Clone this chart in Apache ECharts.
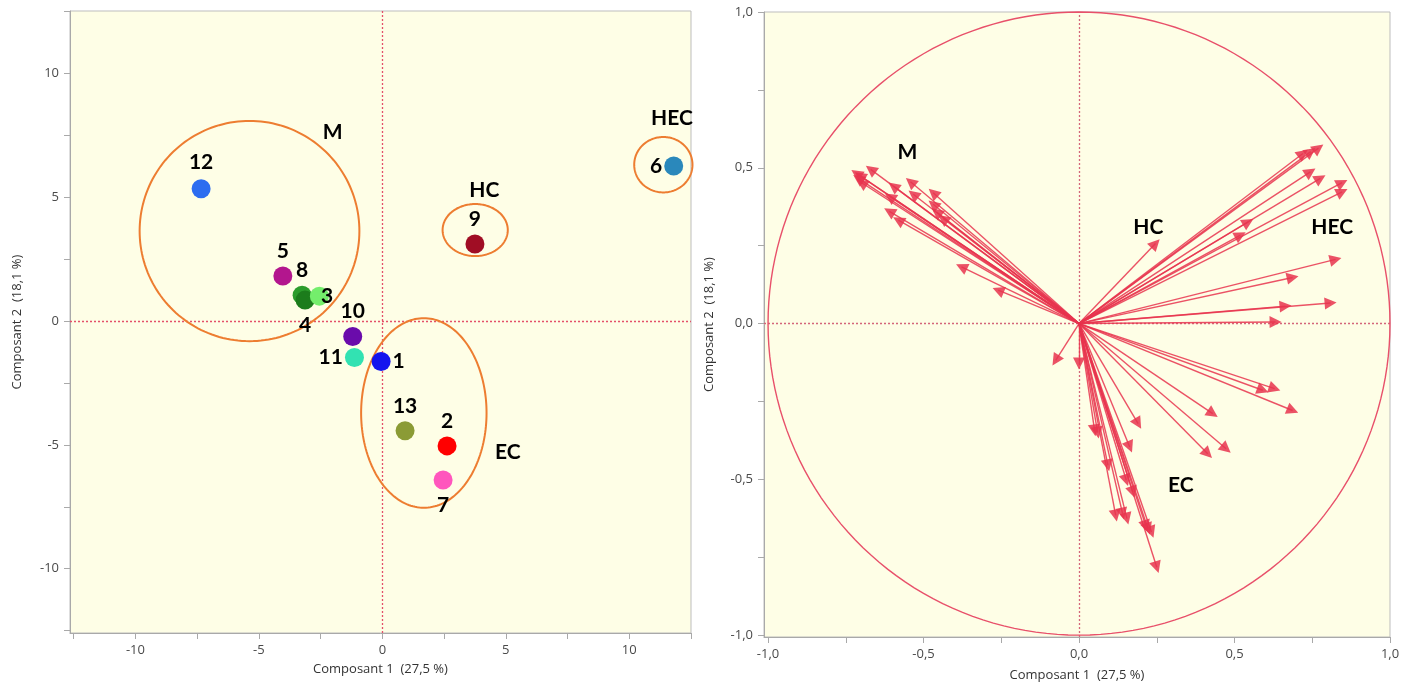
<!DOCTYPE html>
<html><head><meta charset="utf-8">
<script src="https://cdn.jsdelivr.net/npm/echarts@6/dist/echarts.min.js"></script>
<style>html,body{margin:0;padding:0;background:#fff}#c{width:1416px;height:689px}</style>
</head><body><div id="c"></div>
<script>
// ---------- Score plot (left) ----------
const sampleIds = ['1','2','3','4','5','6','7','8','9','10','11','12','13'];
const scoreX = [-0.05, 2.62, -2.55, -3.13, -4.03, 11.8, 2.46, -3.25, 3.75, -1.2, -1.13, -7.34, 0.92];
const scoreY = [-1.63, -5.04, 1.01, 0.85, 1.82, 6.27, -6.42, 1.05, 3.12, -0.62, -1.47, 5.35, -4.43];

const groupNames = ['M', 'HC', 'HEC', 'EC'];
const groupCx = [-5.38, 3.76, 11.38, 1.68];
const groupCy = [3.64, 3.68, 6.32, -3.71];
const groupRx = [4.45, 1.32, 1.18, 2.54];
const groupRy = [4.45, 1.05, 1.12, 3.83];
const groupLabelX = [-2.01, 4.13, 11.73, 5.08];
const groupLabelY = [7.65, 5.29, 8.19, -5.28];

const scoreTicks = [-12.5, -10, -7.5, -5, -2.5, 0, 2.5, 5, 7.5, 10, 12.5];
const scoreTickLabels = [-10, -5, 0, 5, 10];

// ---------- Loading plot (right) ----------
const loadX = [
  -0.716, -0.71, -0.699, -0.705, -0.67, -0.597, -0.542, -0.608, -0.533, -0.469, -0.469, -0.458, -0.437, -0.61, -0.581, -0.378, -0.26,
  0.246,
  0.72, 0.745, 0.77, 0.744, 0.776, 0.846, 0.846, 0.544, 0.519, 0.825, 0.687, 0.809, 0.664, 0.632,
  -0.075, 0.0, 0.629, 0.591, 0.687, 0.43, 0.473, 0.414, 0.19, 0.163, 0.05, 0.06, 0.093, 0.152, 0.173, 0.118, 0.14, 0.154, 0.215, 0.222, 0.233, 0.25
];
const loadY = [
  0.482, 0.466, 0.452, 0.475, 0.495, 0.441, 0.455, 0.407, 0.415, 0.42, 0.383, 0.358, 0.337, 0.36, 0.332, 0.182, 0.107,
  0.257,
  0.546, 0.552, 0.563, 0.487, 0.466, 0.452, 0.423, 0.326, 0.284, 0.206, 0.148, 0.066, 0.056, 0.005,
  -0.118, -0.128, -0.209, -0.214, -0.279, -0.289, -0.402, -0.418, -0.321, -0.396, -0.343, -0.35, -0.455, -0.503, -0.541, -0.616, -0.61, -0.626, -0.65, -0.659, -0.669, -0.782
];
const loadGroupNames = ['M', 'HC', 'HEC', 'EC'];
const loadGroupX = [-0.552, 0.223, 0.814, 0.327];
const loadGroupY = [0.551, 0.31, 0.31, -0.519];

const loadTicks = [-1, -0.75, -0.5, -0.25, 0, 0.25, 0.5, 0.75, 1];
const loadTickLabels = [-1, -0.5, 0, 0.5, 1];

// ---------- styles (kept apart from data) ----------
const sampleColors = {
  '1': '#1414ee', '2': '#ff0000', '3': '#74ee6c', '4': '#1c7c1c', '5': '#b3168e',
  '6': '#2a88bb', '7': '#ff56bd', '8': '#2c9c2c', '9': '#a00d24', '10': '#6a0bab',
  '11': '#32e2b2', '12': '#2d6df0', '13': '#8b9b35'
};
const labelPlace = {
  '1': {position: 'right', distance: 2, offset: [0, 0]},
  '2': {position: 'top', distance: 5, offset: [-2, 2]},
  '3': {position: 'right', distance: -8, offset: [0, -1]},
  '4': {position: 'bottom', distance: 5, offset: [-7, -7]},
  '5': {position: 'top', distance: 5, offset: [-5, 0]},
  '6': {position: 'left', distance: 2, offset: [0, 0]},
  '7': {position: 'bottom', distance: 5, offset: [0, -4]},
  '8': {position: 'top', distance: 5, offset: [0, 4]},
  '9': {position: 'top', distance: 5, offset: [-1, 0]},
  '10': {position: 'top', distance: 5, offset: [16, 6]},
  '11': {position: 'left', distance: 2, offset: [0, 2]},
  '12': {position: 'top', distance: 6, offset: [1, 0]},
  '13': {position: 'top', distance: 5, offset: [4, 0]}
};
const drawOrder = ['1','2','5','6','7','8','9','10','11','12','13','4','3'];

const BOLD_FONT = 'Lato, "Open Sans", sans-serif';
const AX_FONT = '"Open Sans", "Noto Sans", sans-serif';

function commaFmt(dec) {
  return v => (dec ? Number(v).toFixed(dec) : String(Math.round(v))).replace('.', ',');
}
function makeAxis(min, max, ticks, labels, fmt, name, gap, gridIndex) {
  return {
    type: 'value', gridIndex, min, max, name, nameLocation: 'middle', nameGap: gap,
    nameTextStyle: {color: '#333', fontSize: 13, fontFamily: AX_FONT},
    axisLine: {show: true, onZero: false, lineStyle: {color: '#a9a9a9', width: 1}},
    axisTick: {show: true, inside: false, length: 6, customValues: ticks, lineStyle: {color: '#a9a9a9'}},
    axisLabel: {customValues: labels, formatter: fmt, color: '#4a4a4a', fontSize: 13, fontFamily: AX_FONT, margin: 11},
    splitLine: {show: false}
  };
}
function ellipseRender(color, width) {
  return function (params, api) {
    const cx = api.value(0), cy = api.value(1), rx = api.value(2), ry = api.value(3);
    const pts = [];
    const n = 180;
    for (let i = 0; i <= n; i++) {
      const t = i / n * 2 * Math.PI;
      pts.push(api.coord([cx + rx * Math.cos(t), cy + ry * Math.sin(t)]));
    }
    return {type: 'polyline', shape: {points: pts}, style: {stroke: color, fill: 'none', lineWidth: width}};
  };
}

const sampleData = drawOrder.map(id => {
  const i = sampleIds.indexOf(id);
  const lp = labelPlace[id];
  return {
    name: id, value: [scoreX[i], scoreY[i]],
    itemStyle: {color: sampleColors[id], opacity: 1},
    label: Object.assign({show: true, formatter: id, color: '#000'}, lp)
  };
});

const zeroLine = (color) => ({
  silent: true, symbol: 'none', animation: false, z: 1,
  label: {show: false},
  lineStyle: {type: [2, 2], color, width: 1.3},
  data: [{xAxis: 0}, {yAxis: 0}]
});

const groupLabelStyle = {show: true, position: 'inside', color: '#000', fontSize: 21, fontWeight: 'bold', fontFamily: BOLD_FONT, formatter: p => p.name};

const option = {
  animation: false,
  backgroundColor: '#ffffff',
  grid: [
    {left: 70, top: 11, width: 621, height: 622, show: true, backgroundColor: '#fefee6', borderColor: '#bdbdbd', borderWidth: 1},
    {left: 764, top: 12, width: 626, height: 625, show: true, backgroundColor: '#fefee6', borderColor: '#bdbdbd', borderWidth: 1}
  ],
  xAxis: [
    makeAxis(-12.65, 12.5, scoreTicks, scoreTickLabels, commaFmt(0), 'Composant 1  (27,5 %)', 30, 0),
    makeAxis(-1.013, 1.0, loadTicks, loadTickLabels, commaFmt(1), 'Composant 1  (27,5 %)', 32, 1)
  ],
  yAxis: [
    makeAxis(-12.6, 12.53, scoreTicks, scoreTickLabels, commaFmt(0), 'Composant 2  (18,1 %)', 46, 0),
    makeAxis(-1.006, 1.0, loadTicks, loadTickLabels, commaFmt(1), 'Composant 2  (18,1 %)', 48, 1)
  ],
  series: [
    {
      type: 'custom', xAxisIndex: 0, yAxisIndex: 0, silent: true, z: 2,
      renderItem: ellipseRender('#ed7d31', 2),
      data: groupNames.map((g, i) => [groupCx[i], groupCy[i], groupRx[i], groupRy[i]]),
      markLine: zeroLine('#e4506a')
    },
    {
      type: 'scatter', xAxisIndex: 0, yAxisIndex: 0, z: 3,
      symbol: 'circle', symbolSize: 19,
      itemStyle: {opacity: 1},
      label: {color: '#000', fontSize: 21, fontWeight: 'bold', fontFamily: BOLD_FONT},
      labelLayout: {hideOverlap: false},
      data: sampleData
    },
    {
      type: 'scatter', xAxisIndex: 0, yAxisIndex: 0, z: 4, symbolSize: 1,
      itemStyle: {color: 'rgba(0,0,0,0)', opacity: 1},
      label: groupLabelStyle,
      data: groupNames.map((g, i) => ({name: g, value: [groupLabelX[i], groupLabelY[i]]}))
    },
    {
      type: 'custom', xAxisIndex: 1, yAxisIndex: 1, silent: true, z: 2,
      renderItem: ellipseRender('#e8506a', 1.4),
      data: [[0, 0, 1, 1]],
      markLine: zeroLine('#d4667a')
    },
    {
      type: 'lines', coordinateSystem: 'cartesian2d', xAxisIndex: 1, yAxisIndex: 1, z: 3,
      symbol: ['none', 'triangle'], symbolSize: [10, 12],
      lineStyle: {color: '#e8344e', width: 1.4, opacity: 0.85},
      itemStyle: {color: '#e8344e'},
      data: loadX.map((x, i) => ({coords: [[0, 0], [x, loadY[i]]]}))
    },
    {
      type: 'scatter', xAxisIndex: 1, yAxisIndex: 1, z: 4, symbolSize: 1,
      itemStyle: {color: 'rgba(0,0,0,0)', opacity: 1},
      label: groupLabelStyle,
      data: loadGroupNames.map((g, i) => ({name: g, value: [loadGroupX[i], loadGroupY[i]]}))
    }
  ]
};
const chart = echarts.init(document.getElementById('c'), null, {renderer: 'canvas'});
chart.setOption(option);
</script>
</body></html>
